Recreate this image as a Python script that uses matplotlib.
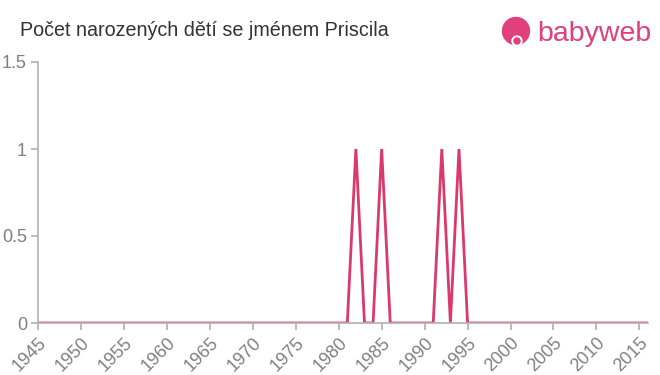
import matplotlib.pyplot as plt
from matplotlib.patches import Ellipse

plt.rcParams['font.family'] = ['Liberation Sans', 'DejaVu Sans']

years = list(range(1945, 2017))
counts = [0] * 37 + [1, 0, 0, 1, 0, 0, 0, 0, 0, 0, 1, 0, 1] + [0] * 22
xticks = list(range(1945, 2016, 5))
yticks = [0, 0.5, 1, 1.5]
ytick_labels = ['0', '0.5', '1', '1.5']

line_color = '#d93a6e'
axis_color = '#b0b0b0'
text_color = '#808080'

W, H = 660, 375
fig = plt.figure(figsize=(W / 100, H / 100), dpi=100)
ax = fig.add_axes([38 / W, 52 / H, 610 / W, 261 / H])

ax.plot(years, counts, color=line_color, lw=2, solid_joinstyle='miter')
ax.set_xlim(1945, 2016)
ax.set_ylim(0, 1.5)

ax.set_xticks(xticks)
ax.set_xticklabels([str(x) for x in xticks], rotation=45, ha='right',
                   rotation_mode='anchor', fontsize=13, color=text_color)
ax.set_yticks(yticks)
ax.set_yticklabels(ytick_labels, fontsize=13, color=text_color)

for side in ['top', 'right']:
    ax.spines[side].set_visible(False)
for side in ['left', 'bottom']:
    ax.spines[side].set_color(axis_color)
    ax.spines[side].set_linewidth(1.2)
ax.tick_params(axis='both', colors=axis_color, length=5, width=1.2,
               labelcolor=text_color, pad=3)

fig.text(20 / W, 1 - 30 / H, 'Počet narozených dětí se jménem Priscila',
         fontsize=14.2, color='#333333', va='center', ha='left')

# babyweb logo
logo_color = '#e0407b'
fig.patches.append(Ellipse((516 / W, 1 - 31 / H), 27 / W, 27 / H,
                           transform=fig.transFigure, color=logo_color, zorder=5))
fig.patches.append(Ellipse((517 / W, 1 - 41 / H), 10 / W, 10 / H,
                           transform=fig.transFigure, color='white', zorder=6))
fig.patches.append(Ellipse((517 / W, 1 - 41 / H), 6 / W, 6 / H,
                           transform=fig.transFigure, color=logo_color, zorder=7))
fig.text(537 / W, 1 - 34 / H, 'babyweb', fontsize=20.5, color=logo_color,
         va='center', ha='left')

fig.savefig('out.png', dpi=100, facecolor='white')
